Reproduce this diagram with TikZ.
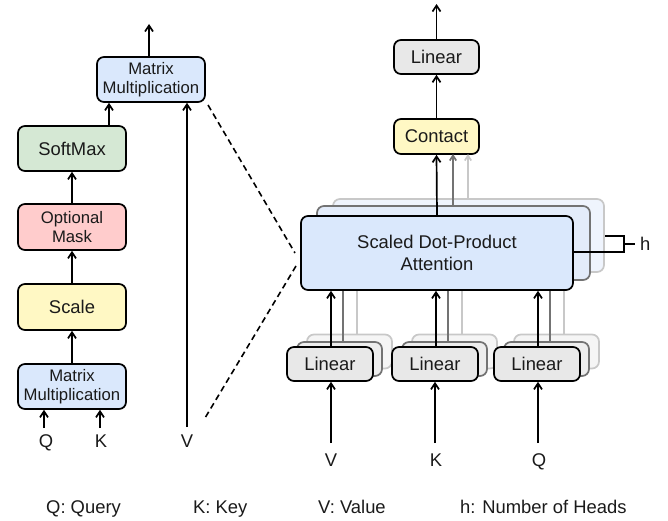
\documentclass[tikz,border=0pt]{standalone}
\usepackage{fontspec}
\setmainfont{Liberation Sans}
\usetikzlibrary{arrows.meta}

\definecolor{txt}{HTML}{1A1A1A}
\definecolor{blueF}{HTML}{DAE8FC}
\definecolor{blueF2}{HTML}{E3ECFA}
\definecolor{blueF3}{HTML}{EFF4FD}
\definecolor{greenF}{HTML}{D5E8D4}
\definecolor{redF}{HTML}{FFCCCC}
\definecolor{yellowF}{HTML}{FFF8C4}
\definecolor{greyF}{HTML}{E8E8E8}
\definecolor{greyF2}{HTML}{EDEDED}
\definecolor{greyF3}{HTML}{F5F5F5}
\definecolor{midLine}{HTML}{737373}
\definecolor{lightLine}{HTML}{C8C8C8}

\newcommand\lblfont{\fontsize{18.4}{21.7}\selectfont}
\newcommand\smlfont{\fontsize{16.7}{19.3}\selectfont}

\tikzset{
  box/.style={draw=black, line width=1.7pt, rounded corners=7pt, inner sep=0pt,
    align=center, text=txt, font=\lblfont},
  wide/.style={box, minimum width=108pt, minimum height=45pt},
  lin/.style={box, fill=greyF, minimum width=86pt, minimum height=34pt},
  lin2/.style={box, draw=midLine, fill=greyF2, minimum width=85pt, minimum height=34pt},
  lin3/.style={box, draw=lightLine, fill=greyF3, minimum width=85pt, minimum height=34pt},
  arr/.style={line width=1.7pt, -{Straight Barb[length=6pt,width=8pt]}},
  arrmid/.style={line width=1.7pt, draw=midLine, -{Straight Barb[length=5pt,width=6.5pt]}},
  arrlight/.style={line width=1.7pt, draw=lightLine, -{Straight Barb[length=5pt,width=6.5pt]}},
  plainmid/.style={line width=1.7pt, draw=midLine},
  plainlight/.style={line width=1.7pt, draw=lightLine},
  guideline/.style={line width=1.6pt, dash pattern=on 6pt off 4pt},
  lab/.style={inner sep=0pt, text=txt, font=\lblfont, text height=13.2pt, text depth=0pt},
  legend/.style={inner sep=0pt, anchor=base west, text=txt, font=\lblfont},
}

\begin{document}
\begin{tikzpicture}[x=1pt, y=-1pt]
\useasboundingbox (0,0) rectangle (668,521);

% ---------- scaled dot-product attention (left column) ----------
\node[wide, fill=blueF, font=\smlfont] (mmA) at (151,79.5) {Matrix\\Multiplication};
\node[wide, fill=greenF] (soft) at (72,148.5) {SoftMax};
\node[wide, fill=redF, minimum height=46pt, font=\smlfont] (mask) at (72,227) {Optional\\Mask};
\node[wide, fill=yellowF, minimum height=46pt] (scale) at (72,307) {Scale};
\node[wide, fill=blueF, font=\smlfont] (mmB) at (72,386.5) {Matrix\\Multiplication};

\coordinate (outA) at (149,24);
\draw[arr] (mmA.north -| outA) -- (outA);
\draw[arr] ([xshift=37pt]soft.north) -- ([xshift=37pt]soft.north |- mmA.south);
\draw[arr] (mask.north) -- (soft.south);
\draw[arr] (scale.north) -- (mask.south);
\draw[arr] (mmB.north) -- (scale.south);

\node[lab] (qA) at (46,441) {Q};
\node[lab] (kA) at (101,441) {K};
\node[lab] (vA) at (187,441) {V};
\coordinate (qinA) at (44,428);
\coordinate (kinA) at (100,428);
\coordinate (vinA) at (187,427);
\draw[arr] (qinA) -- (qinA |- mmB.south);
\draw[arr] (kinA) -- (kinA |- mmB.south);
\draw[arr] (vinA) -- (vinA |- mmA.south);

% ---------- multi-head attention (right) ----------
% stacked attention heads
\node[box, draw=lightLine, fill=blueF3, minimum width=271pt, minimum height=73pt] (sd3) at (468.5,235.5) {};
\node[box, draw=midLine, fill=blueF2, minimum width=273pt, minimum height=74pt] (sd2) at (453.5,243) {};

% stacked linear projections
\foreach \nm/\cx in {v/330, k/435, q/537}{
  \node[lin3] (\nm3) at (\cx+19.5,351.5) {};
  \node[lin2] (\nm2) at (\cx+9.5,359) {};
  \node[lin] (\nm1) at (\cx,364) {Linear};
}

% head outputs feeding the lower edge of the front head
\foreach \nm in {v,k,q}{
  \draw[plainlight] ([xshift=7.5pt]\nm3.north) -- ([xshift=7.5pt]\nm3.north |- sd2.south);
  \draw[plainmid] ([xshift=3.5pt]\nm2.north) -- ([xshift=3.5pt]\nm2.north |- sd2.south);
}

\node[box, fill=blueF, minimum width=272pt, minimum height=74pt] (sd1) at (437,253)
  {Scaled Dot-Product\\Attention};

\foreach \nm in {v,k,q}{
  \draw[arr] ([xshift=1pt]\nm1.north) -- ([xshift=1pt]\nm1.north |- sd1.south);
}

% heads bracket
\draw[line width=1.7pt] (sd1.east |- 0,252) -- (624,252) -- (624,236) -- (sd3.east |- 0,236);
\draw[line width=1.7pt] (624,244) -- (635,244);
\node[lab, anchor=west] (hlab) at (640,244) {h};

% concatenation and output projection
\node[box, fill=yellowF, minimum width=85pt, minimum height=35pt] (cat) at (436.5,136.5) {Contact};
\node[lin, minimum width=85pt] (outlin) at (436.5,57) {Linear};
\coordinate (outB) at (436.5,4);

\draw[arr] (sd1.north) -- (cat.south);
\draw[arrmid] (453,206) -- (453,154);
\draw[arrlight] (468,199) -- (468,154);
\draw[arr] (cat.north) -- (outlin.south);
\draw[arr] (outlin.north) -- (outB);

% inputs
\node[lab] (vB) at (331,460) {V};
\node[lab] (kB) at (436,460) {K};
\node[lab] (qB) at (539,460) {Q};
\coordinate (vinB) at (331,443);
\coordinate (kinB) at (435,443);
\coordinate (qinB) at (538,443);
\draw[arr] (vinB) -- (vinB |- v1.south);
\draw[arr] (kinB) -- (kinB |- k1.south);
\draw[arr] (qinB) -- (qinB |- q1.south);

% zoom-in guides
\coordinate (g1) at (208,105);
\coordinate (g2) at (295,253);
\coordinate (g3) at (296,266);
\coordinate (g4) at (205,418);
\draw[guideline] (g1) -- (g2);
\draw[guideline] (g3) -- (g4);

% legend
\node[legend] (lq) at (46,513) {Q: Query};
\node[legend] (lk) at (193,513) {K: Key};
\node[legend] (lv) at (318,513) {V: Value};
\node[legend] (lh) at (460,513) {h: Number of Heads};
\end{tikzpicture}
\end{document}
